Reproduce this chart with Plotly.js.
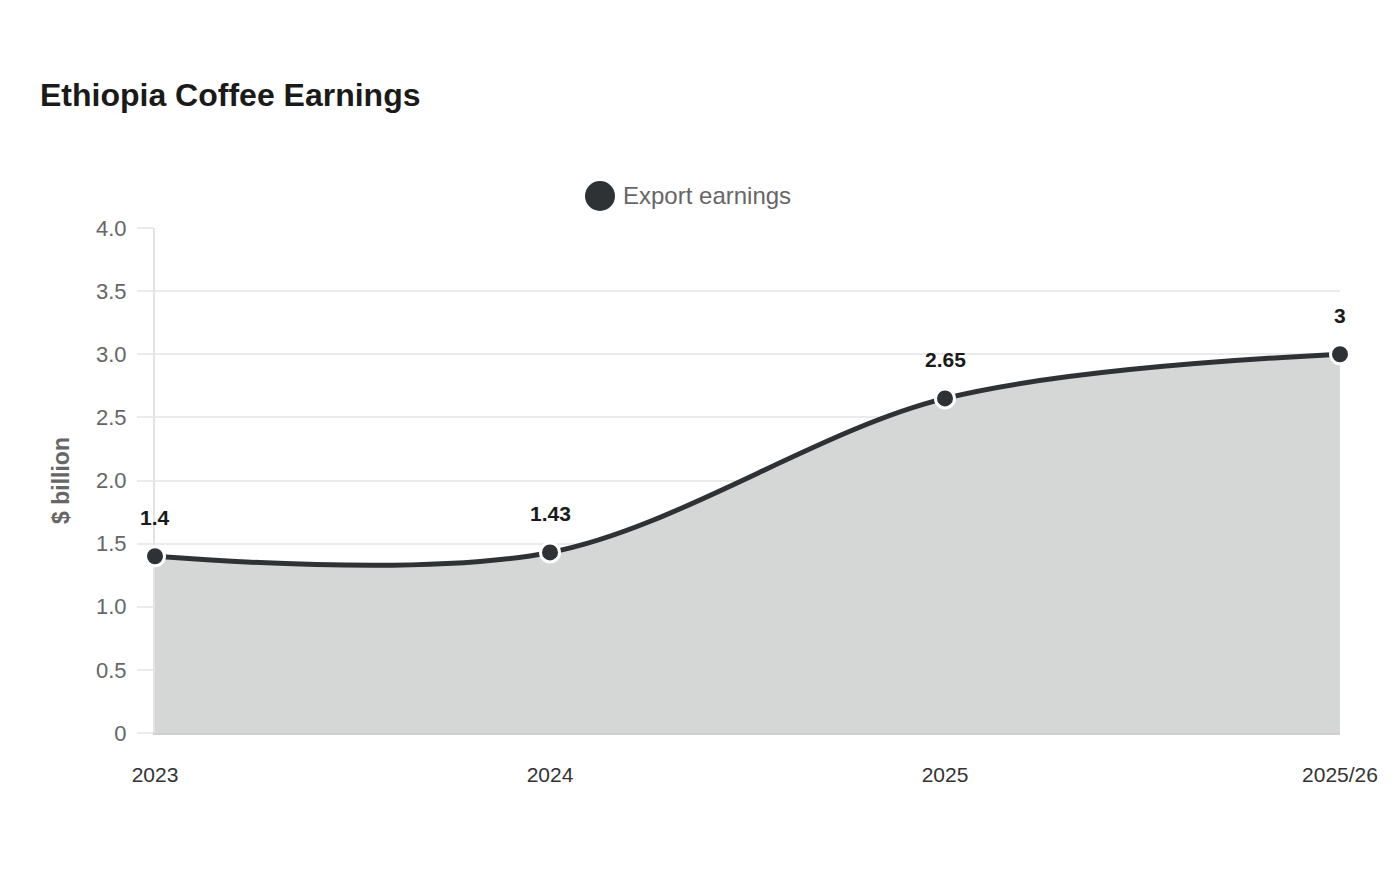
<!DOCTYPE html>
<html>
<head>
<meta charset="utf-8">
<script src="https://cdn.plot.ly/plotly-3.0.1.min.js"></script>
<style>
  html, body { margin: 0; padding: 0; background: #ffffff; }
  #chart { width: 1400px; height: 880px; }
</style>
</head>
<body>
<div id="chart"></div>
<script>
// Ethiopia coffee export earnings, $ billion
const periods = ["2023", "2024", "2025", "2025/26"];
const earnings = [1.4, 1.43, 2.65, 3];
const seriesName = "Export earnings";
const yTickValues = [0, 0.5, 1, 1.5, 2, 2.5, 3, 3.5, 4];
const yTickLabels = ["0", "0.5", "1.0", "1.5", "2.0", "2.5", "3.0", "3.5", "4.0"];

const FONT = "Liberation Sans, Arial, sans-serif";
const LINE_COLOR = "#2e3235";
const FILL_COLOR = "#d5d6d6";

// plot area in pixels
const PLOT = { left: 155, top: 228, width: 1185, height: 505 };
const toPaperX = px => (px - PLOT.left) / PLOT.width;
const toPaperY = py => (PLOT.top + PLOT.height - py) / PLOT.height;

const earningsTrace = {
  type: "scatter",
  mode: "lines+markers",
  x: periods,
  y: earnings,
  name: seriesName,
  showlegend: false,
  fill: "tozeroy",
  fillcolor: FILL_COLOR,
  line: { color: LINE_COLOR, width: 5, shape: "spline", smoothing: 0.95 },
  marker: { size: 19, color: LINE_COLOR, line: { color: "#ffffff", width: 3 } },
  cliponaxis: false,
  hoverinfo: "x+y"
};

// value labels above each point (category index keeps year-like names from being read as numbers)
const valueLabels = periods.map((p, i) => ({
  x: i,
  y: earnings[i],
  xref: "x",
  yref: "y",
  text: "<b>" + earnings[i] + "</b>",
  showarrow: false,
  yshift: 39,
  yanchor: "middle",
  font: { family: FONT, size: 21, color: "#1a1a1a" }
}));

// legend: filled circle + series name
const legendText = {
  x: toPaperX(623),
  y: toPaperY(196),
  xref: "paper",
  yref: "paper",
  xanchor: "left",
  yanchor: "middle",
  xshift: -2,
  text: seriesName,
  showarrow: false,
  font: { family: FONT, size: 24, color: "#666666" }
};

const layout = {
  width: 1400,
  height: 880,
  paper_bgcolor: "#ffffff",
  plot_bgcolor: "#ffffff",
  margin: { l: 155, r: 60, t: 228, b: 147 },
  font: { family: FONT, color: "#666666" },
  showlegend: false,
  title: {
    text: "<b>Ethiopia Coffee Earnings</b>",
    xref: "container",
    yref: "container",
    x: 40 / 1400,
    xanchor: "left",
    y: 1 - 95 / 880,
    yanchor: "middle",
    font: { family: FONT, size: 32, color: "#1a1a1a" }
  },
  xaxis: {
    type: "category",
    range: [0, 3],
    showgrid: false,
    showline: true,
    linecolor: "#d0d0d0",
    linewidth: 2,
    layer: "below traces",
    ticks: "",
    ticklabelstandoff: 22,
    tickfont: { family: FONT, size: 21, color: "#333333" },
    zeroline: false,
    fixedrange: true
  },
  yaxis: {
    range: [0, 4],
    tickvals: yTickValues,
    ticktext: yTickLabels,
    showgrid: true,
    gridcolor: "#ebebeb",
    gridwidth: 2,
    showline: true,
    linecolor: "#e3e3e3",
    linewidth: 2,
    layer: "below traces",
    ticks: "outside",
    ticklen: 16,
    tickwidth: 2,
    tickcolor: "#ebebeb",
    ticklabelstandoff: 6,
    tickfont: { family: FONT, size: 22, color: "#666666" },
    zeroline: false,
    fixedrange: true,
    title: {
      text: "<b>$ billion</b>",
      standoff: 20,
      font: { family: FONT, size: 23, color: "#666666" }
    }
  },
  shapes: [
    {
      type: "circle",
      xref: "paper",
      yref: "paper",
      x0: toPaperX(600 - 15),
      x1: toPaperX(600 + 15),
      y0: toPaperY(196 + 15),
      y1: toPaperY(196 - 15),
      fillcolor: LINE_COLOR,
      line: { width: 0 }
    }
  ],
  annotations: valueLabels.concat([legendText])
};

Plotly.newPlot("chart", [earningsTrace], layout, { displayModeBar: false });
</script>
</body>
</html>
